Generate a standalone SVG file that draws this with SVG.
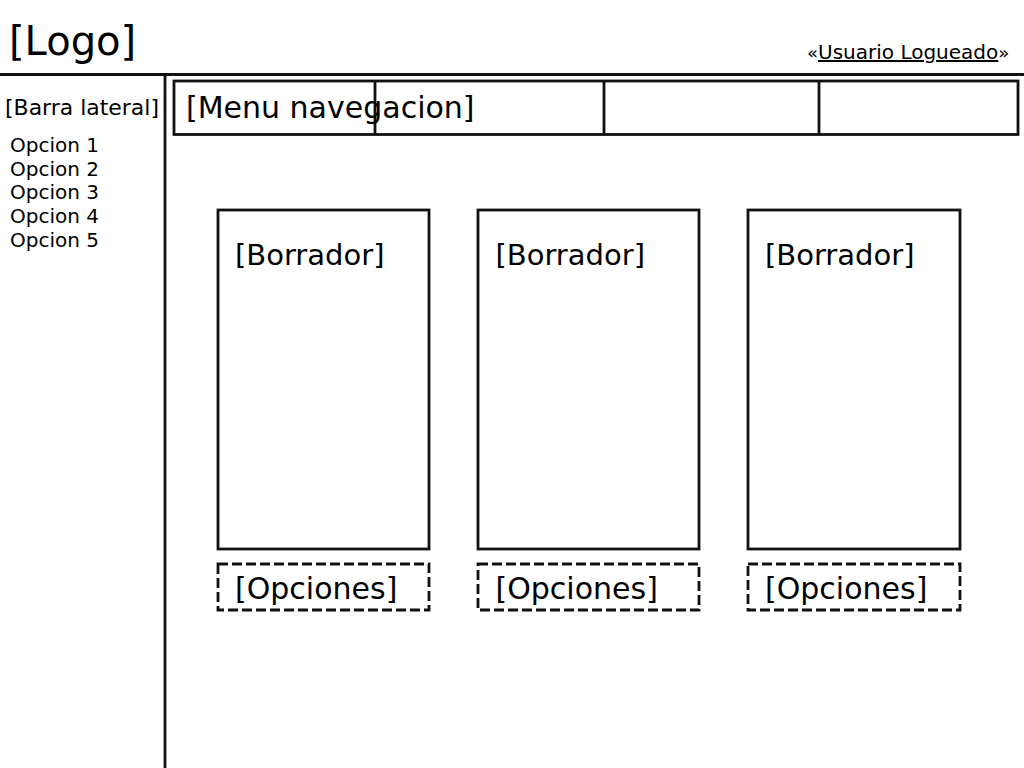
<svg xmlns="http://www.w3.org/2000/svg" width="1024" height="768" viewBox="0 0 1024 768">
<style>
.ln{stroke:#111;stroke-width:2.8;fill:none}
.box{stroke:#111;stroke-width:2.8;fill:#fff}
.dash{stroke:#111;stroke-width:2.8;fill:#fff;stroke-dasharray:10 4}
text{font-family:"DejaVu Sans","Liberation Sans",sans-serif;fill:#000}
.big{font-size:29px}
.opt{font-size:20px}
</style>
<rect width="1024" height="768" fill="#fff"/>
<g id="layout">
<line class="ln" x1="0" y1="74.5" x2="1024" y2="74.5"/>
<line class="ln" x1="165" y1="74.5" x2="165" y2="768"/>
</g>
<g id="logo"><text x="9" y="55" font-size="40">[Logo]</text></g>
<g id="usuario"><text x="807" y="59" font-size="20"><tspan font-size="18">«</tspan><tspan text-decoration="underline">Usuario Logueado</tspan><tspan font-size="18">»</tspan></text></g>
<g id="barra-lateral">
<text x="5" y="115" font-size="21" textLength="154" lengthAdjust="spacingAndGlyphs">[Barra lateral]</text>
<text class="opt" x="10" y="151.8">Opcion 1</text>
<text class="opt" x="10" y="175.5">Opcion 2</text>
<text class="opt" x="10" y="199.2">Opcion 3</text>
<text class="opt" x="10" y="222.9">Opcion 4</text>
<text class="opt" x="10" y="246.6">Opcion 5</text>
</g>
<g id="menu">
<rect class="box" x="174" y="81" width="844" height="53.5"/>
<line class="ln" x1="375" y1="81" x2="375" y2="134.5"/>
<line class="ln" x1="604" y1="81" x2="604" y2="134.5"/>
<line class="ln" x1="819" y1="81" x2="819" y2="134.5"/>
<text x="186" y="117.5" font-size="30">[Menu navegacion]</text>
</g>
<g id="borrador1">
<rect class="box" x="218" y="210" width="211" height="339"/>
<text class="big" x="235" y="265">[Borrador]</text>
</g>
<g id="borrador2">
<rect class="box" x="478" y="210" width="221" height="339"/>
<text class="big" x="495.5" y="265">[Borrador]</text>
</g>
<g id="borrador3">
<rect class="box" x="748" y="210" width="212" height="339"/>
<text class="big" x="765" y="265">[Borrador]</text>
</g>
<g id="opciones1">
<rect class="dash" x="218" y="564" width="211" height="46"/>
<text x="235" y="599" font-size="30">[Opciones]</text>
</g>
<g id="opciones2">
<rect class="dash" x="478" y="564" width="221" height="46"/>
<text x="495.5" y="599" font-size="30">[Opciones]</text>
</g>
<g id="opciones3">
<rect class="dash" x="748" y="564" width="212" height="46"/>
<text x="765" y="599" font-size="30">[Opciones]</text>
</g>
<g id="connectors"></g>
</svg>
